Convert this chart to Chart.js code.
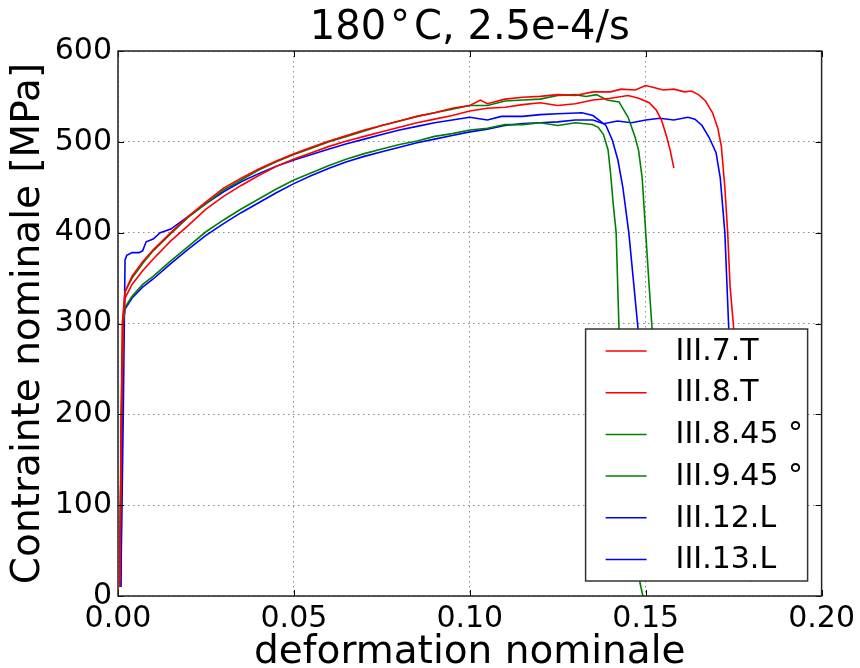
<!DOCTYPE html>
<html>
<head>
<meta charset="utf-8">
<title>180°C, 2.5e-4/s</title>
<script src="https://cdn.jsdelivr.net/npm/chart.js@4/dist/chart.umd.min.js"></script>
<style>
    body { margin: 0; background: #fff; }
    canvas { display: block; }
</style>
</head>
<body>
<canvas id="myChart" width="860" height="668"></canvas>
<script>
// ticks
const xTicks = [0, 0.05, 0.10, 0.15, 0.20];
const yTicks = [0, 100, 200, 300, 400, 500, 600];

const labels = ['III.7.T', 'III.8.T', 'III.8.45 \u00b0', 'III.9.45 \u00b0', 'III.12.L', 'III.13.L'];
const colors = ['#ff0000', '#ff0000', '#008000', '#008000', '#0000ff', '#0000ff'];

// III.7.T
const eps_7T = [0.0005, 0.0008, 0.0012, 0.002, 0.004, 0.007, 0.010, 0.015, 0.020, 0.025, 0.030, 0.035, 0.040, 0.045, 0.050, 0.055, 0.060, 0.065, 0.070, 0.075, 0.080, 0.085, 0.090, 0.095, 0.100, 0.103, 0.105, 0.110, 0.115, 0.120, 0.125, 0.130, 0.135, 0.140, 0.143, 0.147, 0.150, 0.152, 0.155, 0.158, 0.161, 0.163, 0.165, 0.167, 0.169, 0.1705, 0.1715, 0.1725, 0.1733, 0.1740, 0.1750, 0.1765, 0.1780, 0.1800];
const sig_7T = [18, 150, 300, 335, 352, 368, 381, 400, 418, 434, 449, 460, 470, 479, 487, 494, 501, 507, 513, 518, 523, 528, 532, 537, 540, 546, 542, 547, 549, 550, 552, 551, 555, 555, 558, 557, 562, 560, 557, 558, 555, 556, 552, 545, 532, 515, 495, 450, 400, 340, 295, 200, 100, 16];

// III.8.T
const eps_8T = [0.0005, 0.001, 0.0015, 0.002, 0.004, 0.007, 0.010, 0.015, 0.020, 0.025, 0.030, 0.035, 0.040, 0.045, 0.050, 0.055, 0.060, 0.065, 0.070, 0.075, 0.080, 0.085, 0.090, 0.095, 0.100, 0.105, 0.110, 0.115, 0.120, 0.125, 0.130, 0.135, 0.140, 0.145, 0.148, 0.151, 0.153, 0.1545, 0.156, 0.157, 0.158];
const sig_8T = [10, 200, 305, 328, 343, 358, 371, 391, 408, 426, 440, 452, 463, 473, 481, 488, 495, 501, 506, 511, 516, 521, 525, 529, 534, 537, 538, 541, 543, 540, 542, 546, 548, 551, 548, 543, 535, 524, 505, 490, 471];

// III.8.45
const eps_845 = [0.0005, 0.001, 0.0015, 0.002, 0.004, 0.007, 0.010, 0.015, 0.020, 0.025, 0.030, 0.035, 0.040, 0.045, 0.050, 0.055, 0.060, 0.065, 0.070, 0.075, 0.080, 0.085, 0.090, 0.095, 0.100, 0.105, 0.110, 0.115, 0.120, 0.125, 0.130, 0.133, 0.136, 0.139, 0.1424, 0.145, 0.147, 0.148, 0.149, 0.150, 0.151, 0.1518, 0.1535];
const sig_845 = [20, 220, 305, 335, 350, 366, 380, 399, 417, 432, 447, 458, 469, 478, 486, 493, 500, 506, 512, 518, 523, 528, 532, 536, 540, 540, 545, 546, 547, 551, 552, 550, 552, 546, 544, 527, 505, 490, 460, 400, 340, 295, 150];

// III.9.45
const eps_945 = [0.0005, 0.001, 0.0015, 0.002, 0.004, 0.007, 0.010, 0.015, 0.020, 0.025, 0.030, 0.035, 0.040, 0.045, 0.050, 0.055, 0.060, 0.065, 0.070, 0.075, 0.080, 0.085, 0.090, 0.095, 0.100, 0.105, 0.110, 0.115, 0.120, 0.125, 0.130, 0.1348, 0.1365, 0.138, 0.1393, 0.140, 0.1408, 0.1416, 0.1424, 0.1484, 0.1492];
const sig_945 = [15, 200, 300, 318, 330, 343, 352, 369, 385, 401, 414, 426, 437, 448, 458, 466, 474, 481, 487, 492, 497, 501, 506, 509, 513, 515, 519, 519, 521, 518, 521, 519, 516, 508, 491, 466, 430, 400, 295, 14, 0];

// III.12.L
const eps_12L = [0.0008, 0.0015, 0.002, 0.0025, 0.004, 0.006, 0.007, 0.008, 0.010, 0.012, 0.015, 0.020, 0.025, 0.030, 0.035, 0.040, 0.045, 0.050, 0.055, 0.060, 0.065, 0.070, 0.075, 0.080, 0.085, 0.090, 0.095, 0.100, 0.105, 0.109, 0.115, 0.120, 0.125, 0.1319, 0.135, 0.1387, 0.1405, 0.1421, 0.1435, 0.1452, 0.1478, 0.150];
const sig_12L = [10, 200, 370, 375, 378, 378, 380, 390, 393, 400, 404, 418, 432, 445, 456, 465, 473, 480, 486, 492, 498, 503, 508, 513, 517, 521, 524, 527, 524, 528, 528, 530, 531, 532, 529, 518, 502, 480, 450, 400, 295, 200];

// III.13.L
const eps_13L = [0.0008, 0.0012, 0.0015, 0.002, 0.004, 0.007, 0.010, 0.015, 0.020, 0.025, 0.030, 0.035, 0.040, 0.045, 0.050, 0.055, 0.060, 0.065, 0.070, 0.075, 0.080, 0.085, 0.090, 0.095, 0.100, 0.105, 0.110, 0.115, 0.120, 0.125, 0.130, 0.135, 0.138, 0.142, 0.146, 0.150, 0.154, 0.158, 0.162, 0.164, 0.166, 0.168, 0.170, 0.1712, 0.1725, 0.1736, 0.1745, 0.1755];
const sig_13L = [10, 200, 300, 316, 328, 340, 349, 366, 382, 397, 410, 422, 433, 444, 454, 463, 471, 478, 484, 489, 494, 499, 503, 507, 511, 514, 518, 520, 521, 522, 524, 524, 520, 523, 521, 524, 526, 524, 527, 525, 518, 505, 488, 460, 400, 295, 200, 100];

const seriesX = [eps_7T, eps_8T, eps_845, eps_945, eps_12L, eps_13L];
const seriesY = [sig_7T, sig_8T, sig_845, sig_945, sig_12L, sig_13L];

function toPoints(xs, ys) {
    return xs.map((x, i) => ({ x: x, y: ys[i] }));
}

// cadre, graduations internes et légende dessinés par-dessus les courbes
const framePlugin = {
    id: 'frame',
    afterDatasetsDraw(chart) {
        const { ctx, chartArea: a, scales } = chart;
        ctx.save();

        ctx.strokeStyle = '#000';
        ctx.lineWidth = 1;
        ctx.beginPath();
        xTicks.forEach(v => {
            const px = Math.round(scales.x.getPixelForValue(v)) + 0.5;
            ctx.moveTo(px, a.bottom); ctx.lineTo(px, a.bottom - 6);
            ctx.moveTo(px, a.top); ctx.lineTo(px, a.top + 6);
        });
        yTicks.forEach(v => {
            const py = Math.round(scales.y.getPixelForValue(v)) + 0.5;
            ctx.moveTo(a.left, py); ctx.lineTo(a.left + 6, py);
            ctx.moveTo(a.right, py); ctx.lineTo(a.right - 6, py);
        });
        ctx.stroke();

        ctx.strokeStyle = '#222';
        ctx.lineWidth = 1.5;
        ctx.strokeRect(a.left, a.top, a.right - a.left, a.bottom - a.top);

        // légende
        const bw = 222, bh = 252;
        const bx = a.right - 14 - bw;
        const by = a.bottom - 15 - bh;
        ctx.fillStyle = '#fff';
        ctx.fillRect(bx, by, bw, bh);
        ctx.strokeStyle = '#333';
        ctx.lineWidth = 1.5;
        ctx.strokeRect(bx, by, bw, bh);

        ctx.font = '30px "DejaVu Sans"';
        ctx.textBaseline = 'middle';
        ctx.textAlign = 'left';
        labels.forEach((lab, i) => {
            const ry = by + 22 + i * 41.7;
            ctx.strokeStyle = colors[i];
            ctx.lineWidth = 1.5;
            ctx.beginPath();
            ctx.moveTo(bx + 20, ry);
            ctx.lineTo(bx + 61, ry);
            ctx.stroke();
            ctx.fillStyle = '#000';
            ctx.fillText(lab, bx + 90, ry + 1);
        });

        ctx.restore();
    }
};

Chart.defaults.font.family = '"DejaVu Sans", sans-serif';
Chart.defaults.color = '#000';

const ctx = document.getElementById('myChart').getContext('2d');
const myChart = new Chart(ctx, {
    type: 'scatter',
    data: {
        datasets: labels.map((lab, i) => ({
            label: lab,
            data: toPoints(seriesX[i], seriesY[i]),
            showLine: true,
            borderColor: colors[i],
            backgroundColor: colors[i],
            borderWidth: 1.6,
            pointRadius: 0,
            tension: 0
        }))
    },
    options: {
        responsive: false,
        animation: false,
        layout: {
            padding: { left: 0, right: 37, top: 0, bottom: 0 }
        },
        scales: {
            x: {
                type: 'linear',
                min: 0,
                max: 0.2,
                afterFit: (s) => { s.height = 72; },
                afterBuildTicks: (s) => { s.ticks = xTicks.map(v => ({ value: v })); },
                ticks: {
                    padding: 5,
                    font: { size: 30 },
                    callback: (v) => v.toFixed(2)
                },
                grid: { color: '#8a8a8a', lineWidth: 1, drawTicks: false },
                border: { display: false, dash: [1.5, 3.5] },
                title: {
                    display: true,
                    text: 'deformation nominale',
                    font: { size: 39, lineHeight: 0.8 },
                    padding: 0
                }
            },
            y: {
                min: 0,
                max: 600,
                afterFit: (s) => { s.width = 118; },
                afterBuildTicks: (s) => { s.ticks = yTicks.map(v => ({ value: v })); },
                ticks: {
                    padding: 6,
                    font: { size: 30 }
                },
                grid: { color: '#8a8a8a', lineWidth: 1, drawTicks: false },
                border: { display: false, dash: [1.5, 3.5] },
                title: {
                    display: true,
                    text: 'Contrainte nominale [MPa]',
                    font: { size: 39, lineHeight: 1.2 },
                    padding: { top: 5, bottom: 0 }
                }
            }
        },
        plugins: {
            legend: { display: false },
            tooltip: { enabled: false },
            title: {
                display: true,
                fullSize: false,
                text: '180\u200a\u00b0\u200aC, 2.5e-4/s',
                font: { size: 40, weight: 'normal', lineHeight: 1.1 },
                padding: { top: 7, bottom: 0 }
            }
        }
    },
    plugins: [framePlugin]
});
</script>
</body>
</html>
